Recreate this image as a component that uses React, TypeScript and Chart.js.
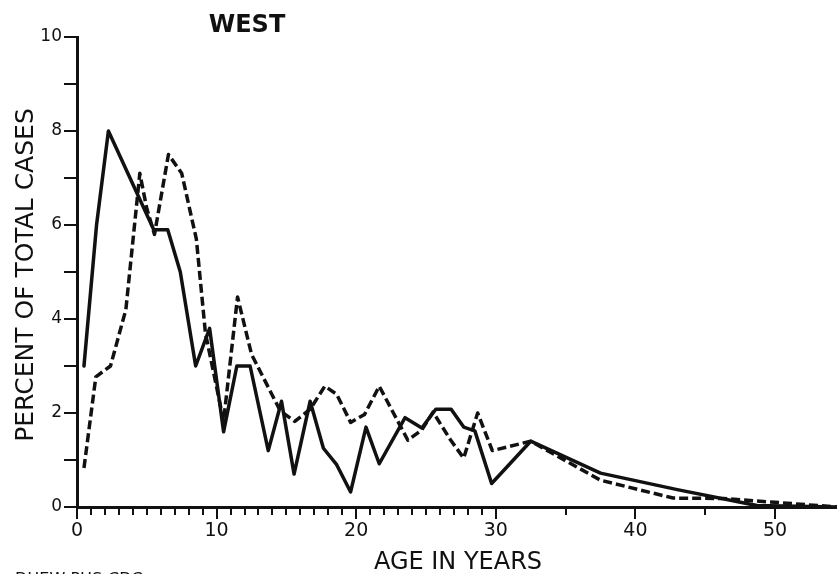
import React, { useEffect, useRef } from "react";
import { Chart, registerables } from "chart.js";

Chart.register(...registerables);

// Solid line (age in years -> percent of total cases)
const solidAges = [0.5, 1.4, 2.25, 5.5, 6.5, 7.4, 8.5, 9.5, 10.5, 11.45, 12.4, 13.7, 14.65, 15.55, 16.7, 17.65, 18.6, 19.6, 20.7, 21.65, 23.5, 24.7, 25.7, 26.8, 27.7, 28.5, 29.7, 32.5, 37.5, 43, 48.7, 54.44];
const solidPct = [3.0, 6.0, 8.0, 5.9, 5.9, 5.0, 3.0, 3.8, 1.6, 3.0, 3.0, 1.2, 2.25, 0.7, 2.25, 1.25, 0.9, 0.32, 1.7, 0.92, 1.9, 1.68, 2.08, 2.08, 1.7, 1.62, 0.5, 1.4, 0.72, 0.37, 0.03, 0.0];

// Dashed line
const dashedAges = [0.5, 1.35, 2.4, 3.5, 4.5, 5.0, 5.55, 6.55, 7.5, 8.55, 9.2, 10.5, 11.5, 12.5, 14.55, 15.6, 16.7, 17.75, 18.6, 19.6, 20.6, 21.65, 23.7, 24.7, 25.5, 26.75, 27.7, 28.7, 29.75, 32.5, 37.5, 42.7, 46.3, 50, 54.44];
const dashedPct = [0.83, 2.77, 3.0, 4.2, 7.1, 6.35, 5.8, 7.5, 7.1, 5.7, 3.7, 1.83, 4.47, 3.25, 2.05, 1.82, 2.08, 2.57, 2.4, 1.8, 1.97, 2.57, 1.42, 1.64, 2.02, 1.43, 1.04, 2.0, 1.2, 1.4, 0.57, 0.19, 0.18, 0.1, 0.0];

const xMajorTicks = [0, 10, 20, 30, 40, 50];
const xMinorTicks = [1, 2, 3, 4, 5, 6, 7, 8, 9, 11, 12, 13, 14, 15, 16, 17, 18, 19, 21, 22, 23, 24, 25, 26, 27, 28, 29, 35, 45];
const yTicks = [0, 1, 2, 3, 4, 5, 6, 7, 8, 9, 10];
const yLabelled = [0, 2, 4, 6, 8, 10];

const titleText = "WEST";
const xTitle = "AGE IN YEARS";
const yTitle = "PERCENT OF TOTAL CASES";
const footText = "DHEW-PHS-CDC";

const INK = "#111";
const FONT = "'DejaVu Sans', sans-serif";

const decorPlugin = {
  id: "decor",
  afterDraw(chart: any) {
    const ctx = chart.ctx;
    const xs = chart.scales.x;
    const ys = chart.scales.y;
    const y0 = ys.getPixelForValue(0);
    ctx.save();
    // minor x ticks
    ctx.strokeStyle = INK;
    ctx.lineWidth = 2;
    for (const v of xMinorTicks) {
      const px = Math.round(xs.getPixelForValue(v));
      ctx.beginPath();
      ctx.moveTo(px, y0);
      ctx.lineTo(px, y0 + 8);
      ctx.stroke();
    }
    ctx.fillStyle = INK;
    // title
    ctx.font = `bold 24px ${FONT}`;
    ctx.textAlign = "center";
    ctx.textBaseline = "alphabetic";
    ctx.fillText(titleText, 247, 32);
    // x title
    ctx.font = `24px ${FONT}`;
    ctx.fillText(xTitle, 458, 569);
    // y title
    ctx.save();
    ctx.translate(33, 275);
    ctx.rotate(-Math.PI / 2);
    ctx.font = `25px ${FONT}`;
    ctx.fillText(yTitle, 0, 0);
    ctx.restore();
    // footnote (cut by page edge)
    ctx.font = `16px ${FONT}`;
    ctx.textAlign = "left";
    ctx.textBaseline = "top";
    ctx.fillText(footText, 15, 572);
    ctx.restore();
  },
};

export default function App() {
  const ref = useRef<HTMLCanvasElement | null>(null);

  useEffect(() => {
    document.body.style.margin = "0";
    const canvas = ref.current;
    if (!canvas) return;
    const chart = new Chart(canvas, {
      type: "line",
      data: {
        datasets: [
          {
            data: solidAges.map((a, i) => ({ x: a, y: solidPct[i] })),
            borderColor: INK,
            borderWidth: 3.5,
            borderJoinStyle: "round",
            borderCapStyle: "round",
            pointRadius: 0,
            tension: 0,
            fill: false,
          },
          {
            data: dashedAges.map((a, i) => ({ x: a, y: dashedPct[i] })),
            borderColor: INK,
            borderWidth: 3.5,
            borderDash: [9, 4],
            borderJoinStyle: "round",
            pointRadius: 0,
            tension: 0,
            fill: false,
          },
        ],
      },
      options: {
        responsive: false,
        animation: false,
        devicePixelRatio: 1,
        layout: { padding: { top: 37, left: 0, right: 0, bottom: 0 } },
        plugins: {
          legend: { display: false },
          tooltip: { enabled: false },
          title: { display: false },
        },
        scales: {
          x: {
            type: "linear",
            min: 0,
            max: 54.44,
            afterBuildTicks: (s: any) => {
              s.ticks = xMajorTicks.map((v) => ({ value: v }));
            },
            afterFit: (s: any) => {
              s.height = 67;
            },
            grid: {
              drawOnChartArea: false,
              drawTicks: true,
              tickLength: 12,
              lineWidth: 2,
              color: INK,
            },
            border: { display: true, width: 3, color: INK },
            ticks: {
              color: INK,
              font: { family: FONT, size: 19 },
              padding: 1,
              maxRotation: 0,
              autoSkip: false,
            },
          },
          y: {
            type: "linear",
            min: 0,
            max: 10,
            afterBuildTicks: (s: any) => {
              s.ticks = yTicks.map((v) => ({ value: v }));
            },
            afterFit: (s: any) => {
              s.width = 77;
            },
            grid: {
              drawOnChartArea: false,
              drawTicks: true,
              tickLength: 13,
              lineWidth: 2,
              color: INK,
            },
            border: { display: true, width: 3, color: INK },
            ticks: {
              color: INK,
              font: { family: FONT, size: 17 },
              padding: 2,
              autoSkip: false,
              callback: (v: any) => (yLabelled.includes(Number(v)) ? String(v) : ""),
            },
          },
        },
      },
      plugins: [decorPlugin],
    });
    return () => chart.destroy();
  }, []);

  return (
    <canvas
      ref={ref}
      width={837}
      height={574}
      style={{ display: "block", width: 837, height: 574, background: "#fff" }}
    />
  );
}
